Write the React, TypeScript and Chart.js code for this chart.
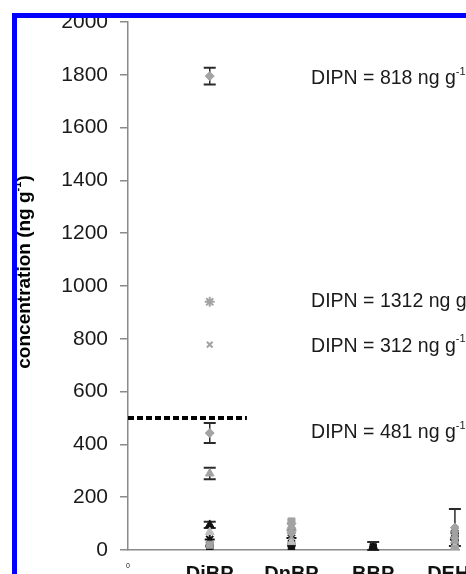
import React, { useEffect, useRef } from 'react';
import { Chart, registerables } from 'chart.js';

Chart.register(...registerables);

// ---------- data ----------
const categories = ['DiBP', 'DnBP', 'BBP', 'DEHP'];
const yMin = 0;
const yMax = 2000;
const yStep = 200;
const xMax = 4.05;

// values per category [DiBP, DnBP, BBP, DEHP]; null = no point
const greyDiamondHigh = [1795, 65, null, 85];
const greyDiamondHighErr = [32, 0, 0, 70];
const greyStar = [940, 75, null, 70];
const greyCross = [778, 50, null, 60];
const greyDiamondMid = [443, 100, null, 45];
const greyDiamondMidErr = [38, 0, 0, 0];
const greyTriangle = [290, 90, null, 35];
const greyTriangleErr = [22, 0, 0, 0];
const greySquare = [20, 108, null, 3];
const greyTriangleLow = [68, 30, null, 15];
const blackTriangle = [95, 82, 8, 55];
const blackTriangleErr = [12, 0, 22, 0];
const blackStar = [40, 45, null, 40];
const blackSquare = [8, 8, 12, 25];
const blackCircle = [15, 20, 5, 65];

const thresholdValue = 500;
const thresholdEnd = 1.455;

const dipnTexts = ['DIPN = 818 ng g', 'DIPN = 1312 ng g', 'DIPN = 312 ng g', 'DIPN = 481 ng g'];
const dipnLevels = [1785, 942, 772, 443];
const dipnX = 2.24;

const yTitleMain = 'concentration (ng g';
const yTitleEnd = ')';
const supText = '-1';

// ---------- styles ----------
const FONT = "'Liberation Sans', Arial, Helvetica, sans-serif";
const GREY = '#a3a3a3';
const BLACK = '#111111';

const seriesDefs = [
  { name: 'A', values: greyDiamondHigh, errors: greyDiamondHighErr, style: 'rectRot', color: GREY, r: 4.5 },
  { name: 'B', values: greyStar, errors: null, style: 'star', color: GREY, r: 5 },
  { name: 'C', values: greyCross, errors: null, style: 'crossRot', color: GREY, r: 4 },
  { name: 'D', values: greyDiamondMid, errors: greyDiamondMidErr, style: 'rectRot', color: GREY, r: 4.5 },
  { name: 'E', values: greyTriangle, errors: greyTriangleErr, style: 'triangle', color: GREY, r: 5 },
  { name: 'F', values: greySquare, errors: null, style: 'rect', color: GREY, r: 5 },
  { name: 'G', values: greyTriangleLow, errors: null, style: 'triangle', color: '#bdbdbd', r: 5 },
  { name: 'H', values: blackTriangle, errors: blackTriangleErr, style: 'triangle', color: BLACK, r: 5 },
  { name: 'I', values: blackStar, errors: null, style: 'star', color: BLACK, r: 5 },
  { name: 'J', values: blackSquare, errors: null, style: 'rect', color: BLACK, r: 4.5 },
  { name: 'K', values: blackCircle, errors: null, style: 'circle', color: BLACK, r: 4 },
];

function drawRich(ctx: CanvasRenderingContext2D, x: number, y: number, main: string, sup: string, tail: string, size: number, weight: string, center: boolean) {
  const mainFont = `${weight} ${size}px ${FONT}`;
  const supSize = Math.round(size * 0.58);
  const supFont = `${weight} ${supSize}px ${FONT}`;
  ctx.font = mainFont;
  const w1 = ctx.measureText(main).width;
  const w3 = ctx.measureText(tail).width;
  ctx.font = supFont;
  const w2 = ctx.measureText(sup).width;
  const total = w1 + w2 + w3;
  const sx = center ? x - total / 2 : x;
  ctx.textAlign = 'left';
  ctx.textBaseline = 'middle';
  ctx.font = mainFont;
  ctx.fillText(main, sx, y);
  ctx.font = supFont;
  ctx.fillText(sup, sx + w1, y - size * 0.36);
  ctx.font = mainFont;
  ctx.fillText(tail, sx + w1 + w2, y);
}

const overlayPlugin = {
  id: 'overlay',
  beforeDatasetsDraw(chart: any) {
    const { ctx, scales } = chart;
    const xs = scales.x;
    const ys = scales.y;
    ctx.save();
    chart.data.datasets.forEach((ds: any) => {
      if (!ds.hasErrors) return;
      ds.data.forEach((p: any) => {
        if (!p.e) return;
        const px = xs.getPixelForValue(p.x);
        const top = ys.getPixelForValue(p.y + p.e);
        const bot = ys.getPixelForValue(Math.max(p.y - p.e, 0));
        ctx.strokeStyle = '#2a2a2a';
        ctx.lineWidth = 1.5;
        ctx.beginPath();
        ctx.moveTo(px, top);
        ctx.lineTo(px, bot);
        ctx.stroke();
        ctx.lineWidth = 2;
        ctx.beginPath();
        ctx.moveTo(px - 6, top);
        ctx.lineTo(px + 6, top);
        ctx.moveTo(px - 6, bot);
        ctx.lineTo(px + 6, bot);
        ctx.stroke();
      });
    });
    ctx.restore();
  },
  afterDraw(chart: any) {
    const { ctx, scales } = chart;
    const xs = scales.x;
    const ys = scales.y;
    ctx.save();
    ctx.fillStyle = '#1a1a1a';
    dipnTexts.forEach((t, i) => {
      drawRich(ctx, xs.getPixelForValue(dipnX), ys.getPixelForValue(dipnLevels[i]), t, supText, '', 19.5, 'normal', false);
    });
    ctx.restore();
    ctx.save();
    ctx.fillStyle = '#000';
    ctx.translate(25, 272);
    ctx.rotate(-Math.PI / 2);
    drawRich(ctx, 0, 0, yTitleMain, supText, yTitleEnd, 19, 'bold', true);
    ctx.restore();
  },
};

export default function App() {
  const ref = useRef<HTMLCanvasElement | null>(null);
  useEffect(() => {
    if (!ref.current) return;
    const datasets: any[] = seriesDefs.map((s) => ({
      label: s.name,
      data: s.values
        .map((v, i) => (v == null ? null : { x: i + 1, y: v, e: s.errors ? s.errors[i] : 0 }))
        .filter((p) => p !== null),
      hasErrors: !!s.errors,
      pointStyle: s.style,
      pointRadius: s.r,
      pointBackgroundColor: s.color,
      pointBorderColor: s.color,
      pointBorderWidth: s.style === 'star' || s.style === 'crossRot' ? 2 : 1,
      showLine: false,
    }));
    datasets.unshift({
      label: 'limit',
      type: 'line',
      data: [
        { x: 0, y: thresholdValue },
        { x: thresholdEnd, y: thresholdValue },
      ],
      borderColor: '#000',
      borderWidth: 4,
      borderDash: [6, 3],
      pointRadius: 0,
      showLine: true,
      fill: false,
    });

    const chart = new Chart(ref.current, {
      type: 'scatter',
      data: { datasets },
      plugins: [overlayPlugin],
      options: {
        animation: false,
        responsive: false,
        maintainAspectRatio: false,
        layout: { padding: { top: 22, left: 0, right: 0, bottom: 0 } },
        plugins: { legend: { display: false }, tooltip: { enabled: false }, title: { display: false } },
        scales: {
          x: {
            type: 'linear',
            min: 0,
            max: xMax,
            afterBuildTicks: (scale: any) => {
              scale.ticks = [0, 1, 2, 3, 4].map((v) => ({ value: v }));
            },
            afterFit: (scale: any) => {
              scale.height = 24;
              scale.paddingLeft = 0;
              scale.paddingRight = 0;
            },
            grid: { display: false },
            border: { display: true, color: '#8a8a8a', width: 1.5 },
            ticks: {
              autoSkip: false,
              maxRotation: 0,
              minRotation: 0,
              padding: 4,
              color: '#111',
              callback: (v: any) => (v === 0 ? '0' : categories[v - 1]),
              font: (c: any) =>
                c.tick && c.tick.value === 0
                  ? { size: 7, family: FONT }
                  : { size: 20, weight: 'bold', family: FONT },
            },
          },
          y: {
            min: yMin,
            max: yMax,
            afterFit: (scale: any) => {
              scale.width = 128;
              scale.paddingTop = 0;
              scale.paddingBottom = 0;
            },
            grid: {
              display: true,
              drawOnChartArea: false,
              drawTicks: true,
              tickLength: 8,
              color: '#8a8a8a',
              lineWidth: 1.5,
            },
            border: { display: true, color: '#8a8a8a', width: 1.5 },
            ticks: {
              stepSize: yStep,
              padding: 12,
              color: '#1a1a1a',
              font: { size: 21, family: FONT },
              callback: (v: any) => String(v),
            },
          },
        },
      },
    } as any);
    return () => chart.destroy();
  }, []);

  return (
    <div style={{ position: 'fixed', left: 0, top: 0, width: 466, height: 574, background: '#fff', overflow: 'hidden' }}>
      <canvas ref={ref} width={466} height={574} style={{ display: 'block', width: 466, height: 574 }} />
      <div
        style={{
          position: 'absolute',
          left: 12,
          top: 13,
          right: 0,
          bottom: 0,
          borderTop: '5px solid #0000ff',
          borderLeft: '5px solid #0000ff',
          pointerEvents: 'none',
        }}
      />
    </div>
  );
}
